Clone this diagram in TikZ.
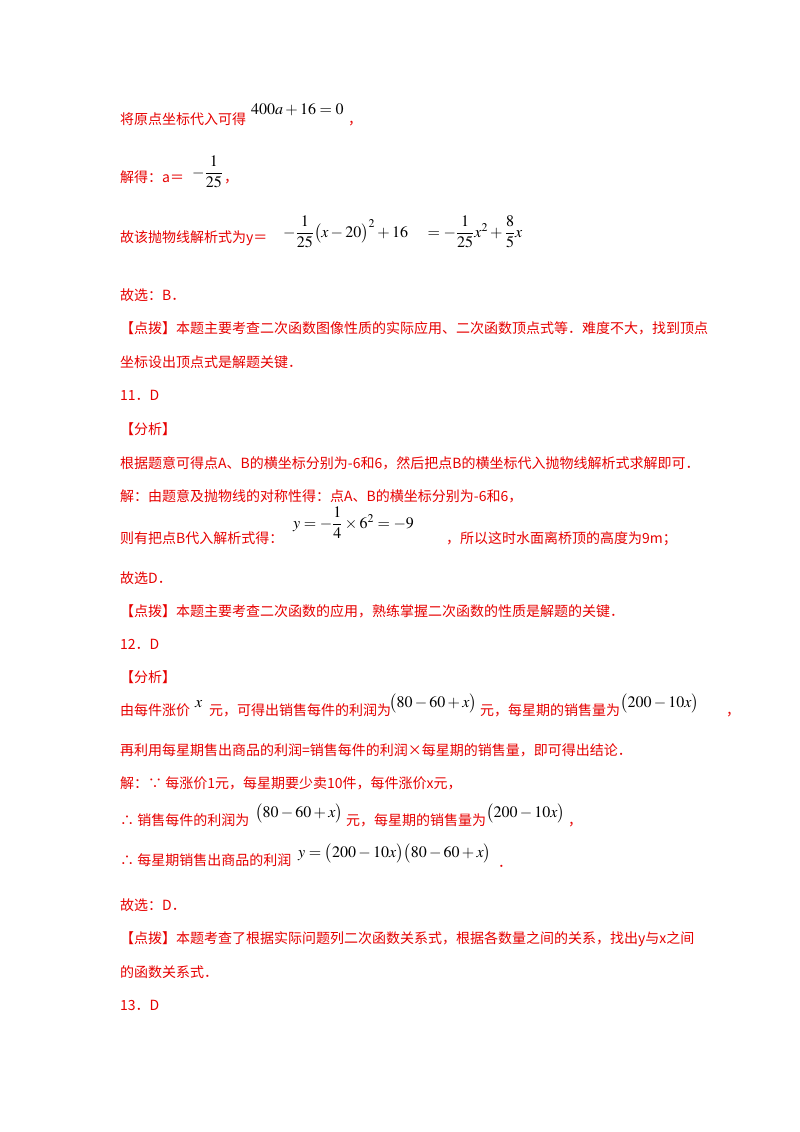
\documentclass[tikz,border=0pt]{standalone}
\usepackage{amsmath}
\usepackage{mathptmx}
\usepackage{fontspec}
\setmainfont{Liberation Serif}
\newfontfamily\cjk{Noto Sans CJK SC}
\definecolor{red1}{RGB}{230,0,0}
\begin{document}
\begin{tikzpicture}[x=1pt,y=-1pt,
  t/.style={anchor=base west,inner sep=0,text=red1,font=\cjk\fontsize{14}{16}\selectfont},
  f/.style={anchor=base west,inner sep=0,text=black,font=\fontsize{16}{18}\selectfont}]
\useasboundingbox (0,0) rectangle (800,1132);
\node[t] (l1) at (120,124) {将原点坐标代入可得};
\node[f] (m1) at (251,114) {$400a+16=0$};
\node[t] (c1) at (348,124) {，};
\node[t] (l2) at (120,182) {解得：a＝};
\node[f] (m2) at (192,177) {$-\dfrac{1}{25}$};
\node[t] (c2) at (224,182) {，};
\node[t] (l3) at (120,242) {故该抛物线解析式为\textit{y}＝};
\node[f] (m3) at (283,237) {$-\dfrac{1}{25}\bigl(x-20\bigr)^2+16\quad=-\dfrac{1}{25}x^2+\dfrac{8}{5}x$};
\node[t] (l4) at (120,300) {故选：B．};
\node[t] (l5) at (120,333) {【点拨】本题主要考查二次函数图像性质的实际应用、二次函数顶点式等．难度不大，找到顶点};
\node[t] (l6) at (120,367) {坐标设出顶点式是解题关键．};
\node[t] (l7) at (120,400) {11．D};
\node[t] (l8) at (120,434) {【分析】};
\node[t] (l9) at (120,468) {根据题意可得点A、B的横坐标分别为-6和6，然后把点B的横坐标代入抛物线解析式求解即可．};
\node[t] (l10) at (120,501) {解：由题意及抛物线的对称性得：点A、B的横坐标分别为-6和6，};
\node[t] (l11) at (120,543) {则有把点B代入解析式得：};
\node[f] (m11) at (293,528) {$y=-\dfrac{1}{4}\times6^2=-9$};
\node[t] (l11b) at (446,543) {，所以这时水面离桥顶的高度为9m；};
\node[t] (l12) at (120,583) {故选D．};
\node[t] (l13) at (120,616) {【点拨】本题主要考查二次函数的应用，熟练掌握二次函数的性质是解题的关键．};
\node[t] (l14) at (120,649) {12．D};
\node[t] (l15) at (120,682) {【分析】};
\node[t] (l16a) at (120,715) {由每件涨价};
\node[f] (m16a) at (195,707) {$x$};
\node[t] (l16b) at (209,715) {元，可得出销售每件的利润为};
\node[f] (m16b) at (389,707) {$\bigl(80-60+x\bigr)$};
\node[t] (l16c) at (480,715) {元，每星期的销售量为};
\node[f] (m16c) at (620,707) {$\bigl(200-10x\bigr)$};
\node[t] (l16d) at (726,715) {，};
\node[t] (l17) at (120,755) {再利用每星期售出商品的利润=销售每件的利润×每星期的销售量，即可得出结论．};
\node[t] (l18) at (120,788) {解：∵ 每涨价1元，每星期要少卖10件，每件涨价x元，};
\node[t] (l19a) at (120,825) {∴ 销售每件的利润为};
\node[f] (m19a) at (255,817) {$\bigl(80-60+x\bigr)$};
\node[t] (l19b) at (346,825) {元，每星期的销售量为};
\node[f] (m19b) at (486,817) {$\bigl(200-10x\bigr)$};
\node[t] (l19c) at (568,825) {，};
\node[t] (l20a) at (120,865) {∴ 每星期销售出商品的利润};
\node[f] (m20) at (298,857) {$y=\bigl(200-10x\bigr)\bigl(80-60+x\bigr)$};
\node[t] (l20b) at (498,867) {．};
\node[t] (l21) at (120,910) {故选：D．};
\node[t] (l22) at (120,943) {【点拨】本题考查了根据实际问题列二次函数关系式，根据各数量之间的关系，找出y与x之间};
\node[t] (l23) at (120,977) {的函数关系式．};
\node[t] (l24) at (120,1010) {13．D};
\end{tikzpicture}
\end{document}
